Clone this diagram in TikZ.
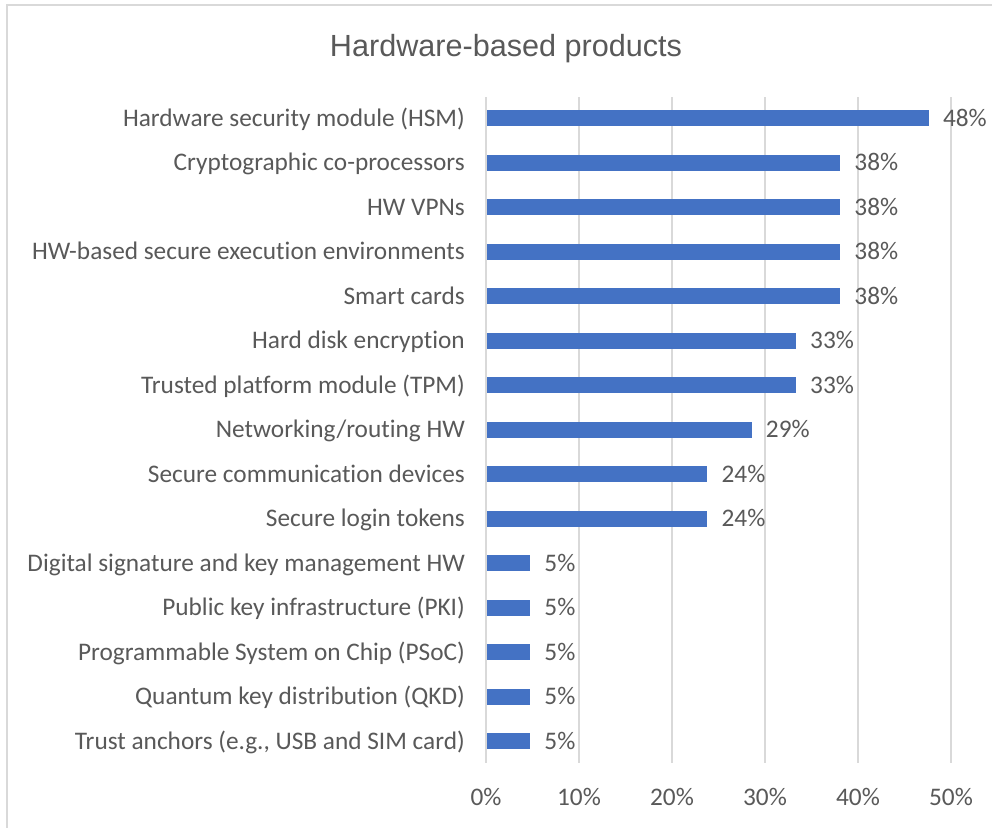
\documentclass[tikz,border=0pt]{standalone}
\usepackage{fontspec}
\setmainfont{Carlito}[Ligatures=NoCommon]
\newfontfamily\titlefont{Liberation Sans}
\definecolor{barblue}{HTML}{4472C4}
\definecolor{txtgray}{HTML}{595959}
\definecolor{gridgray}{HTML}{D9D9D9}
\begin{document}
\begin{tikzpicture}[x=1pt,y=-1pt,
  catlabel/.style={anchor=base east,inner sep=0pt,text=txtgray,font=\fontsize{25.3}{30}\selectfont},
  vallabel/.style={anchor=base west,inner sep=0pt,text=txtgray,font=\fontsize{25.3}{30}\selectfont},
  ticklabel/.style={anchor=base,inner sep=0pt,text=txtgray,font=\fontsize{25.3}{30}\selectfont},
  gridline/.style={draw=gridgray,line width=1.4pt},
  bar/.style={fill=barblue}]
\useasboundingbox (0,0) rectangle (992,827);
\fill[white] (0,0) rectangle (992,827);
% chart area outline (left and top edges)
\draw[gridgray,line width=2pt] (7,840) -- (7,5) -- (1000,5);
% title
\node[anchor=base,inner sep=0pt,text=txtgray,font=\titlefont\fontsize{30.6}{36}\selectfont] (title) at (506,56) {Hardware-based products};
% vertical gridlines and axis labels (93 units per 10%)
\foreach \k in {0,...,5} {
  \draw[gridline] ({486+93*\k},97) -- ({486+93*\k},763);
  \node[ticklabel] (tick\k) at ({486+93*\k},805) {\pgfmathparse{int(10*\k)}\pgfmathresult\%};
}
% bars: share of 21 respondents, with category and value labels
\foreach \lab/\n/\v [count=\i] in {
  {Hardware security module (HSM)}/10/48,
  {Cryptographic co-processors}/8/38,
  {HW VPNs}/8/38,
  {HW-based secure execution environments}/8/38,
  {Smart cards}/8/38,
  {Hard disk encryption}/7/33,
  {Trusted platform module (TPM)}/7/33,
  {Networking/routing HW}/6/29,
  {Secure communication devices}/5/24,
  {Secure login tokens}/5/24,
  {Digital signature and key management HW}/1/5,
  {Public key infrastructure (PKI)}/1/5,
  {Programmable System on Chip (PSoC)}/1/5,
  {Quantum key distribution (QKD)}/1/5,
  {Trust anchors (e.g., USB and SIM card)}/1/5} {
  \pgfmathsetmacro{\y}{118+44.5*(\i-1)}
  \pgfmathsetmacro{\xe}{486+930*\n/21}
  \fill[bar] (487,\y-8) rectangle (\xe,\y+8);
  \node[vallabel] (val\i) at (\xe+14,\y+8) {\v\%};
  \node[catlabel] (lab\i) at (465,\y+8) {\lab};
}
\end{tikzpicture}
\end{document}
